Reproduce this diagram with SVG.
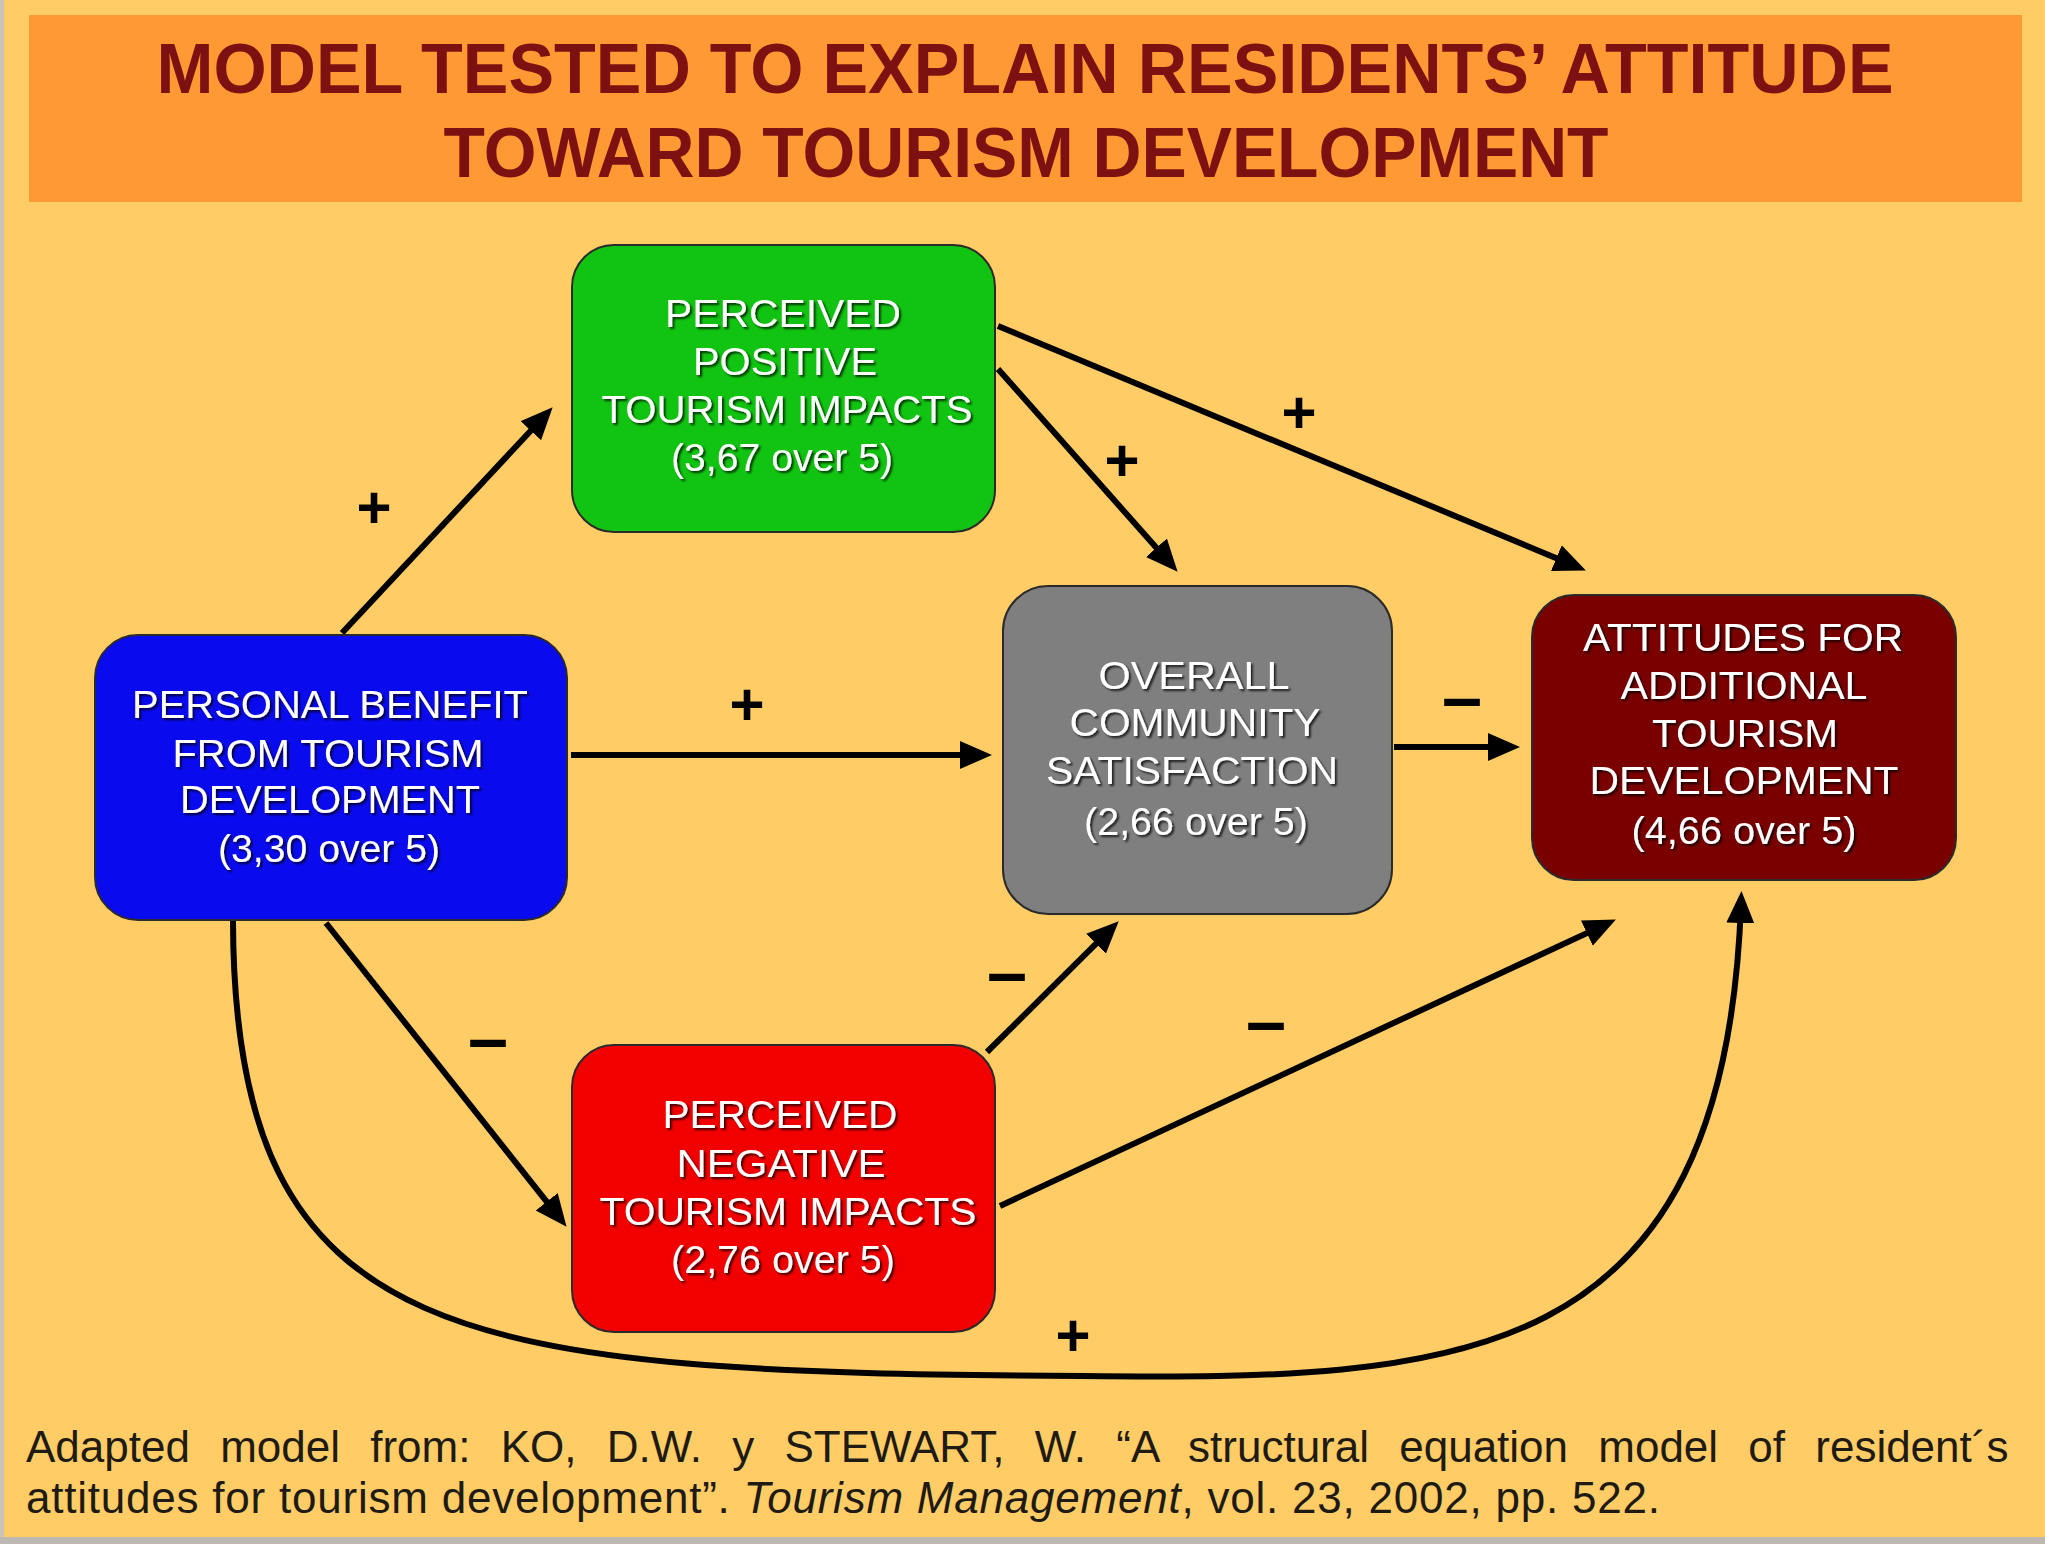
<svg xmlns="http://www.w3.org/2000/svg" width="2045" height="1544" viewBox="0 0 2045 1544">
  <style>
    .title { font-family: "Liberation Sans", Arial, sans-serif; font-weight: bold; font-size: 70px; fill: #7d1010; text-anchor: middle; }
    .node { stroke: #2a2a2a; stroke-width: 2; }
    .nt { font-family: "Liberation Sans", Arial, sans-serif; font-size: 39px; fill: #ffffff; text-anchor: middle; filter: url(#sh); }
    .edge { fill: none; stroke: #000; stroke-width: 6; marker-end: url(#ah); }
    .sign { font-family: "Liberation Sans", Arial, sans-serif; font-weight: bold; fill: #000; text-anchor: middle; }
    .plus { font-size: 60px; }
    .minus { font-size: 72px; }
    .foot { font-family: "Liberation Sans", Arial, sans-serif; font-size: 44px; fill: #1e1a14; }
  </style>
  <defs>
    <filter id="sh" x="-10%" y="-30%" width="120%" height="160%">
      <feDropShadow dx="2" dy="2" stdDeviation="1.2" flood-color="#000" flood-opacity="0.75"/>
    </filter>
    <marker id="ah" markerUnits="userSpaceOnUse" markerWidth="34" markerHeight="30" refX="19" refY="14" orient="auto">
      <path d="M0,0 L32,14 L0,28 Z" fill="#000"/>
    </marker>
  </defs>

  <!-- background -->
  <rect x="0" y="0" width="2045" height="1544" fill="#FFCC66"/>
  <rect x="0" y="0" width="4" height="1544" fill="#c9c3b8"/>
  <rect x="0" y="1537" width="2045" height="7" fill="#bdb9b2"/>

  <!-- title -->
  <g id="title">
    <rect x="29" y="15" width="1993" height="187" fill="#FF9933"/>
    <text class="title" x="1025" y="93" textLength="1737" lengthAdjust="spacingAndGlyphs">MODEL TESTED TO EXPLAIN RESIDENTS’ ATTITUDE</text>
    <text class="title" x="1026" y="177" textLength="1165" lengthAdjust="spacingAndGlyphs">TOWARD TOURISM DEVELOPMENT</text>
  </g>

  <!-- connectors -->
  <g id="connectors">
    <line class="edge" x1="342" y1="633" x2="543.8" y2="416.8"/>
    <line class="edge" x1="571" y1="755" x2="979" y2="755"/>
    <line class="edge" x1="998" y1="326" x2="1573.9" y2="565.4"/>
    <line class="edge" x1="998" y1="369" x2="1169" y2="562"/>
    <line class="edge" x1="1394" y1="747" x2="1507" y2="747"/>
    <line class="edge" x1="987" y1="1052" x2="1109.5" y2="930.4"/>
    <line class="edge" x1="1000" y1="1206" x2="1604.1" y2="925.1"/>
    <line class="edge" x1="326" y1="923" x2="558.5" y2="1216.6"/>
    <path class="edge" stroke-width="7" d="M233,921 C234,1350 460,1372 1082,1376 C1460,1380 1724,1370 1741,904"/>
  </g>

  <!-- connector labels -->
  <g id="edge-labels">
    <text class="sign plus" x="374" y="528">+</text>
    <text class="sign plus" x="747" y="725">+</text>
    <text class="sign plus" x="1299" y="433">+</text>
    <text class="sign plus" x="1122" y="481">+</text>
    <text class="sign minus" x="1462" y="722">–</text>
    <text class="sign minus" x="1007" y="997">–</text>
    <text class="sign minus" x="488" y="1063">–</text>
    <text class="sign minus" x="1266" y="1046">–</text>
    <text class="sign plus" x="1073" y="1356">+</text>
  </g>

  <!-- nodes -->
  <g id="n-positive">
    <rect class="node" x="572" y="245" width="423" height="287" rx="42" fill="#11C411"/>
    <text class="nt" x="783" y="327" textLength="236" lengthAdjust="spacingAndGlyphs">PERCEIVED</text>
    <text class="nt" x="785" y="375" textLength="184" lengthAdjust="spacingAndGlyphs">POSITIVE</text>
    <text class="nt" x="787" y="423" textLength="371" lengthAdjust="spacingAndGlyphs">TOURISM IMPACTS</text>
    <text class="nt" x="782" y="471" textLength="222" lengthAdjust="spacingAndGlyphs">(3,67 over 5)</text>
  </g>

  <g id="n-benefit">
    <rect class="node" x="95" y="635" width="472" height="285" rx="43" fill="#0A0AEE"/>
    <text class="nt" x="330" y="718" textLength="396" lengthAdjust="spacingAndGlyphs">PERSONAL BENEFIT</text>
    <text class="nt" x="328" y="767" textLength="311" lengthAdjust="spacingAndGlyphs">FROM TOURISM</text>
    <text class="nt" x="330" y="813" textLength="300" lengthAdjust="spacingAndGlyphs">DEVELOPMENT</text>
    <text class="nt" x="329" y="862" textLength="222" lengthAdjust="spacingAndGlyphs">(3,30 over 5)</text>
  </g>

  <g id="n-satisfaction">
    <rect class="node" x="1003" y="586" width="389" height="328" rx="45" fill="#7F7F7F"/>
    <text class="nt" x="1194" y="689" textLength="191" lengthAdjust="spacingAndGlyphs">OVERALL</text>
    <text class="nt" x="1195" y="736" textLength="251" lengthAdjust="spacingAndGlyphs">COMMUNITY</text>
    <text class="nt" x="1192" y="784" textLength="292" lengthAdjust="spacingAndGlyphs">SATISFACTION</text>
    <text class="nt" x="1196" y="835" textLength="224" lengthAdjust="spacingAndGlyphs">(2,66 over 5)</text>
  </g>

  <g id="n-attitudes">
    <rect class="node" x="1532" y="595" width="424" height="285" rx="42" fill="#7A0000"/>
    <text class="nt" x="1743" y="651" textLength="320" lengthAdjust="spacingAndGlyphs">ATTITUDES FOR</text>
    <text class="nt" x="1744" y="699" textLength="247" lengthAdjust="spacingAndGlyphs">ADDITIONAL</text>
    <text class="nt" x="1745" y="747" textLength="186" lengthAdjust="spacingAndGlyphs">TOURISM</text>
    <text class="nt" x="1744" y="794" textLength="309" lengthAdjust="spacingAndGlyphs">DEVELOPMENT</text>
    <text class="nt" x="1744" y="844" textLength="225" lengthAdjust="spacingAndGlyphs">(4,66 over 5)</text>
  </g>

  <g id="n-negative">
    <rect class="node" x="572" y="1045" width="423" height="287" rx="42" fill="#F20000"/>
    <text class="nt" x="780" y="1128" textLength="235" lengthAdjust="spacingAndGlyphs">PERCEIVED</text>
    <text class="nt" x="781" y="1177" textLength="209" lengthAdjust="spacingAndGlyphs">NEGATIVE</text>
    <text class="nt" x="788" y="1225" textLength="377" lengthAdjust="spacingAndGlyphs">TOURISM IMPACTS</text>
    <text class="nt" x="783" y="1273" textLength="224" lengthAdjust="spacingAndGlyphs">(2,76 over 5)</text>
  </g>

  <!-- footer -->
  <g id="footer">
    <text class="foot" x="26" y="1462" word-spacing="18">Adapted model from: KO, D.W. y STEWART, W. “A structural equation model of resident´s</text>
    <text class="foot" x="26" y="1513" textLength="1634" lengthAdjust="spacing">attitudes for tourism development”. <tspan font-style="italic">Tourism Management</tspan>, vol. 23, 2002, pp. 522.</text>
  </g>
</svg>
